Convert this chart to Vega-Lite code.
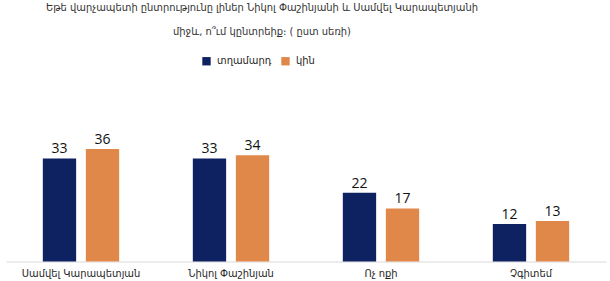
{
  "$schema": "https://vega.github.io/schema/vega-lite/v6.json",
  "width": 600,
  "height": 125,
  "autosize": "none",
  "padding": {"left": 6, "top": 136.5, "right": 4, "bottom": 19.5},
  "background": "white",
  "title": {
    "text": ["Եթե վարչապետի ընտրությունը լիներ Նիկոլ Փաշինյանի և Սամվել Կարապետյանի", "միջև, ո՞ւմ կընտրեիք։ ( ըստ սեռի)"],
    "font": "DejaVu Sans Condensed",
    "fontSize": 11,
    "fontWeight": "normal",
    "color": "#333333",
    "lineHeight": 24,
    "anchor": "middle",
    "dx": -44,
    "offset": 19
  },
  "data": {
    "values": [
      {"candidate": "Սամվել Կարապետյան", "gender": "տղամարդ", "value": 33},
      {"candidate": "Սամվել Կարապետյան", "gender": "կին", "value": 36},
      {"candidate": "Նիկոլ Փաշինյան", "gender": "տղամարդ", "value": 33},
      {"candidate": "Նիկոլ Փաշինյան", "gender": "կին", "value": 34},
      {"candidate": "Ոչ ոքի", "gender": "տղամարդ", "value": 22},
      {"candidate": "Ոչ ոքի", "gender": "կին", "value": 17},
      {"candidate": "Չգիտեմ", "gender": "տղամարդ", "value": 12},
      {"candidate": "Չգիտեմ", "gender": "կին", "value": 13}
    ]
  },
  "encoding": {
    "x": {
      "field": "candidate",
      "type": "nominal",
      "sort": null,
      "scale": {"paddingInner": 0.491, "paddingOuter": 0.2455},
      "axis": {
        "title": null,
        "labelAngle": 0,
        "ticks": false,
        "domainColor": "#d9d9d9",
        "domainWidth": 1,
        "labelFont": "DejaVu Sans Condensed",
        "labelFontSize": 11,
        "labelColor": "#262626",
        "labelPadding": 6
      }
    },
    "xOffset": {
      "field": "gender",
      "type": "nominal",
      "sort": ["տղամարդ", "կին"],
      "scale": {"paddingInner": 0.2256, "paddingOuter": 0}
    },
    "y": {
      "field": "value",
      "type": "quantitative",
      "scale": {"domain": [0, 40]},
      "axis": null
    }
  },
  "layer": [
    {
      "mark": {"type": "bar"},
      "encoding": {
        "color": {
          "field": "gender",
          "type": "nominal",
          "scale": {"domain": ["տղամարդ", "կին"], "range": ["#0E2160", "#E0884A"]},
          "legend": {
            "title": null,
            "orient": "none",
            "direction": "horizontal",
            "legendX": 195,
            "legendY": -81,
            "symbolType": "square",
            "symbolSize": 70,
            "symbolStrokeWidth": 0,
            "symbolOpacity": 1,
            "labelFont": "DejaVu Sans Condensed",
            "labelFontSize": 11,
            "labelColor": "#262626",
            "labelOffset": 5,
            "columnPadding": 8
          }
        }
      }
    },
    {
      "mark": {"type": "text", "baseline": "bottom", "dy": -2, "font": "Open Sans", "fontSize": 14, "color": "#111111"},
      "encoding": {
        "text": {"field": "value", "type": "quantitative"}
      }
    }
  ],
  "config": {
    "view": {"stroke": null}
  }
}
